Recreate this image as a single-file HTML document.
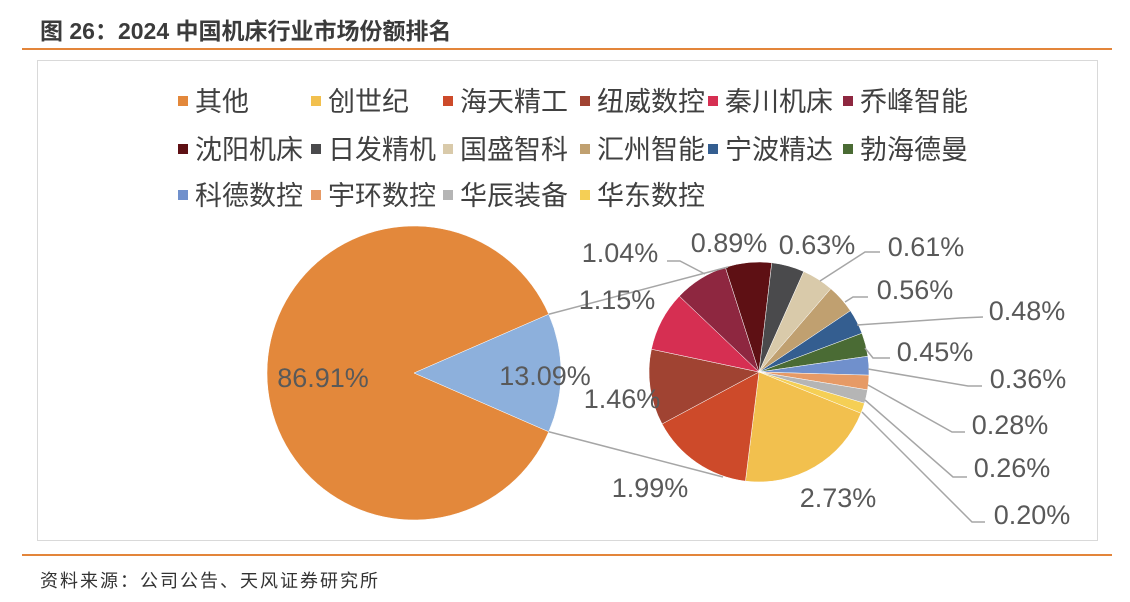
<!DOCTYPE html>
<html><head><meta charset="utf-8">
<style>
body{margin:0;width:1130px;height:602px;background:#fff;overflow:hidden;font-family:"Liberation Sans","Noto Sans CJK SC",sans-serif;}
#t{position:absolute;left:40px;top:12px;font-size:23px;font-weight:bold;color:#3b3b3b;}
#src{position:absolute;left:40px;top:567px;font-size:18px;letter-spacing:2px;color:#333;}
</style></head>
<body>
<div id="t">图 26：2024 中国机床行业市场份额排名</div>
<svg width="1130" height="602" style="position:absolute;left:0;top:0">
<line x1="22" y1="49" x2="1112" y2="49" stroke="#E3853A" stroke-width="2"/>
<rect x="37.5" y="60.5" width="1060" height="480" fill="none" stroke="#d9d9d9"/>
<line x1="22" y1="555" x2="1112" y2="555" stroke="#E3853A" stroke-width="2"/>
<g id="legend"></g><g id="main"></g><g id="sec"></g><g id="lbl"></g>
</svg>
<div id="src">资料来源：公司公告、天风证券研究所</div>
<script>
const categories=["其他","创世纪","海天精工","纽威数控","秦川机床","乔峰智能","沈阳机床","日发精机","国盛智科","汇州智能","宁波精达","勃海德曼","科德数控","宇环数控","华辰装备","华东数控"];
const shares=[86.91,2.73,1.99,1.46,1.15,1.04,0.89,0.63,0.61,0.56,0.48,0.45,0.36,0.28,0.26,0.20];
const colors=["#E3883B","#F2C04E","#CD4A2A","#A04332","#D62F52","#8E2740","#5E1014","#4A4A4C","#D9CAAA","#C0A070","#345E90","#4A6B34","#7090CC","#E69A66","#B5B5B5","#F5CF55"];
const NS="http://www.w3.org/2000/svg";
function mk(tag,attrs,parent){const e=document.createElementNS(NS,tag);for(const k in attrs)e.setAttribute(k,attrs[k]);parent.appendChild(e);return e;}
function pt(cx,cy,r,a){const t=a*Math.PI/180;return [cx+r*Math.cos(t),cy+r*Math.sin(t)];}
function arc(cx,cy,r,a0,a1){const p0=pt(cx,cy,r,a0),p1=pt(cx,cy,r,a1);const lg=(a1-a0)>180?1:0;return `M${cx},${cy}L${p0[0]},${p0[1]}A${r},${r} 0 ${lg} 1 ${p1[0]},${p1[1]}Z`;}
const lg=document.getElementById('legend');
const legX=[183,316,448,585,713,848],legY=[101,149,195];
categories.forEach((c,i)=>{
  const x=legX[i%6],y=legY[Math.floor(i/6)];
  const g=mk('g',{},lg);
  
  
  mk('rect',{x:x-5,y:y-5,width:10,height:10,fill:colors[i]},g);
  const t=mk('text',{x:x+12,y:y+10,'font-size':27,fill:'#404040'},g);t.textContent=c;
});
const secTotal=shares.slice(1).reduce((a,b)=>a+b,0);
const total=shares.reduce((a,b)=>a+b,0);
const mcx=414,mcy=373,mr=147;
const half=secTotal/total*180;
const mg=document.getElementById('main');
let p=mk('path',{d:arc(mcx,mcy,mr,half,360-half),fill:colors[0],stroke:'#fff','stroke-width':0.5},mg);


p=mk('path',{d:arc(mcx,mcy,mr,-half,half),fill:'#8DB0DC',stroke:'#fff','stroke-width':0.5},mg);


const scx=759,scy=372,sr=110;
const sg=document.getElementById('sec');
let a=22;
for(let i=1;i<shares.length;i++){
  const sw=shares[i]/secTotal*360;
  const s=mk('path',{d:arc(scx,scy,sr,a,a+sw),fill:colors[i],stroke:'#fff','stroke-width':0.5},sg);
  
  
  a+=sw;
}
const u=pt(mcx,mcy,mr,-half),d=pt(mcx,mcy,mr,half);
let l=mk('line',{x1:u[0],y1:u[1],x2:728,y2:267,stroke:'#a6a6a6','stroke-width':1.5},sg);

l=mk('line',{x1:d[0],y1:d[1],x2:723,y2:477,stroke:'#a6a6a6','stroke-width':1.5},sg);

const lbl=document.getElementById('lbl');
const labelPos=[[323,378],[838,498],[650,488],[622,399],[617,300],[620,253],[729,243],[817,245],[926,247],[915,290],[1027,311],[935,352],[1028,379],[1010,425],[1012,468],[1032,515]];
const leaders={5:[[667,261],[680,261],[705,274]],8:[[880,252],[865,252],[820,281]],9:[[868,297],[853,297],[845,302]],10:[[983,317],[960,318],[857,325]],11:[[890,358],[873,358],[865,348]],12:[[982,386],[968,386],[868,369]],13:[[965,432],[952,432],[868,385]],14:[[967,477],[953,477],[865,400]],15:[[985,522],[972,522],[862,412]]};
for(const k in leaders){const pl=mk('polyline',{points:leaders[k].map(q=>q.join(',')).join(' '),fill:'none',stroke:'#a6a6a6','stroke-width':1.5},lbl);
}
shares.forEach((v,i)=>{
  const t=mk('text',{x:labelPos[i][0],y:labelPos[i][1]+9,'text-anchor':'middle','font-size':27,fill:'#595959'},lbl);
  
  
  t.textContent=v.toFixed(2)+'%';
});
const t=mk('text',{x:545,y:385,'text-anchor':'middle','font-size':27,fill:'#595959'},lbl);


t.textContent=secTotal.toFixed(2)+'%';
</script>
</body></html>
